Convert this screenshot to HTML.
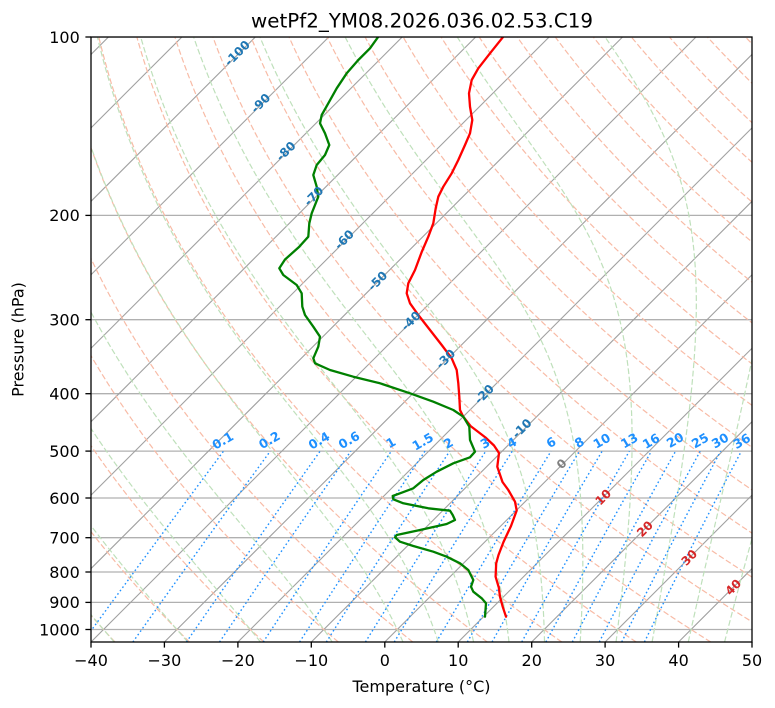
<!DOCTYPE html>
<html><head><meta charset="utf-8">
<style>
html,body{margin:0;padding:0;background:#fff;}
svg{display:block;font-family:"DejaVu Sans","Liberation Sans",sans-serif;}
</style></head>
<body>
<svg id="s" width="775" height="708" viewBox="0 0 775 708" xmlns="http://www.w3.org/2000/svg">
<defs><clipPath id="c"><rect x="91" y="37" width="661" height="605"/></clipPath></defs>
<rect width="775" height="708" fill="#fff"/>
<g clip-path="url(#c)">
  <g id="hgrid" stroke="#b0b0b0" stroke-width="1.3">
    <line x1="91" x2="752" y1="37" y2="37"/>
    <line x1="91" x2="752" y1="215.4" y2="215.4"/>
    <line x1="91" x2="752" y1="319.7" y2="319.7"/>
    <line x1="91" x2="752" y1="393.7" y2="393.7"/>
    <line x1="91" x2="752" y1="451.1" y2="451.1"/>
    <line x1="91" x2="752" y1="498.0" y2="498.0"/>
    <line x1="91" x2="752" y1="537.7" y2="537.7"/>
    <line x1="91" x2="752" y1="572.0" y2="572.0"/>
    <line x1="91" x2="752" y1="602.4" y2="602.4"/>
    <line x1="91" x2="752" y1="629.5" y2="629.5"/>
  </g>
  <g id="iso" stroke="#a0a0a0" stroke-width="1.1" fill="none"></g>
  <g id="dry" stroke="#f8bba6" stroke-width="1.2" stroke-dasharray="5.8,2.6" fill="none"></g>
  <g id="moist" stroke="#bfe0bb" stroke-width="1.2" stroke-dasharray="5.8,2.6" fill="none"></g>
  <g id="mix" stroke="#1e90ff" stroke-width="1.4" stroke-dasharray="1.6,2.6" fill="none"></g>

  <polyline fill="none" stroke="#ff0000" stroke-width="2.3" stroke-linejoin="round" stroke-linecap="round" points="
503.3,36.7 490,53.3 478.3,68.3 471.7,80 469,93.3 470,106.7 472.3,120 470,133.3 465,145 458.3,160 451.7,173.3 443.3,186.7 438.3,196.7 435.7,208.3 433.3,223.3 428.3,236.7 421.7,252 415,270 408.3,283.3 406.7,293.3 410,303.3 418.3,315 430,330 441.7,345 451.7,358.3 456.7,370 458.3,383.3 459.3,396.7 460,410 463.3,416.7 470.5,426 485.5,437.5 494,445.5 499,453 497.3,466.7 502.5,482 508.3,490 515,501.7 516.7,510.5 511,526 503.5,542 498.5,555 496.2,563.3 495.6,576.7 498.8,587.5 500,596.7 502.7,606.7 506,616.7"/>

  <polyline fill="none" stroke="#008000" stroke-width="2.3" stroke-linejoin="round" stroke-linecap="round" points="
378.3,36.7 370,48.3 358.3,60 346.7,73.3 336.7,88.3 328.3,103.3 321.7,115 320,123.3 325,133.3 329.3,145 325,155 316.7,165 313.3,175 316.7,186.7 318.3,196.7 311.7,213.3 309.3,223.3 308.3,236.7 299,247 285,259.5 279.3,268.3 283.3,275 296.7,285 301.7,293.3 302.3,306.7 305,315 313.3,326.7 320,336.7 318.3,346.7 313.3,358.3 315,363.3 330,370 353.3,376.7 380,383.3 410,393.3 433.3,401.7 453.3,410 463.3,416.7 469.3,426.7 470,440 475,451.7 470,457.3 453.3,463.3 436.7,471.7 423.3,480 413.3,488.3 401.7,492.7 392.7,496 393.3,499.3 403.3,503.3 428.3,508.3 450,510.7 452.7,515 455,520 446.7,524 420,530 396.7,535 395,537.3 400,541.7 413.3,546 433.3,551.7 446.7,556.7 460,563.3 468.3,570 473.3,580 471,586.7 473.3,591.7 481.7,598.3 486,603.3 485,616.7"/>

  <g font-weight="bold" font-size="12" text-anchor="middle" dominant-baseline="central">
    <text fill="#1f77b4" transform="translate(237.3,53.3) rotate(-45)">-100</text>
    <text fill="#1f77b4" transform="translate(260.7,103.3) rotate(-45)">-90</text>
    <text fill="#1f77b4" transform="translate(286,151.3) rotate(-45)">-80</text>
    <text fill="#1f77b4" transform="translate(313.8,196.2) rotate(-45)">-70</text>
    <text fill="#1f77b4" transform="translate(344.3,239.7) rotate(-45)">-60</text>
    <text fill="#1f77b4" transform="translate(377.7,281) rotate(-45)">-50</text>
    <text fill="#1f77b4" transform="translate(411,321) rotate(-45)">-40</text>
    <text fill="#1f77b4" transform="translate(445.7,359) rotate(-45)">-30</text>
    <text fill="#1f77b4" transform="translate(484.3,394.3) rotate(-45)">-20</text>
    <text fill="#1f77b4" transform="translate(522,428.5) rotate(-45)">-10</text>
    <text fill="#808080" transform="translate(561.7,464) rotate(-45)">0</text>
    <text fill="#d62728" transform="translate(603.3,497.3) rotate(-45)">10</text>
    <text fill="#d62728" transform="translate(645,529) rotate(-45)">20</text>
    <text fill="#d62728" transform="translate(689.3,557.7) rotate(-45)">30</text>
    <text fill="#d62728" transform="translate(733.3,587.3) rotate(-45)">40</text>
  </g>
  <g font-weight="bold" font-size="12.5" fill="#1e90ff" text-anchor="middle" dominant-baseline="central">
    <text transform="translate(222.7,440.5) rotate(-30)">0.1</text>
    <text transform="translate(269.3,440) rotate(-30)">0.2</text>
    <text transform="translate(319,440.5) rotate(-30)">0.4</text>
    <text transform="translate(349,440) rotate(-30)">0.6</text>
    <text transform="translate(390.7,442.5) rotate(-30)">1</text>
    <text transform="translate(422.7,441.5) rotate(-30)">1.5</text>
    <text transform="translate(448.3,443) rotate(-30)">2</text>
    <text transform="translate(485,443) rotate(-30)">3</text>
    <text transform="translate(511.7,442.5) rotate(-30)">4</text>
    <text transform="translate(551,442.3) rotate(-30)">6</text>
    <text transform="translate(579.3,442.3) rotate(-30)">8</text>
    <text transform="translate(601.7,440.7) rotate(-30)">10</text>
    <text transform="translate(629.3,440.5) rotate(-30)">13</text>
    <text transform="translate(651,441) rotate(-30)">16</text>
    <text transform="translate(675,440) rotate(-30)">20</text>
    <text transform="translate(700,440.5) rotate(-30)">25</text>
    <text transform="translate(720,440.5) rotate(-30)">30</text>
    <text transform="translate(741.7,441) rotate(-30)">36</text>
  </g>
</g>

<rect x="91" y="37" width="661" height="605" fill="none" stroke="#000" stroke-width="1.3"/>

<g stroke="#000" stroke-width="1.3">
  <line x1="85.4" x2="91" y1="37" y2="37"/>
  <line x1="85.4" x2="91" y1="215.4" y2="215.4"/>
  <line x1="85.4" x2="91" y1="319.7" y2="319.7"/>
  <line x1="85.4" x2="91" y1="393.7" y2="393.7"/>
  <line x1="85.4" x2="91" y1="451.1" y2="451.1"/>
  <line x1="85.4" x2="91" y1="498.0" y2="498.0"/>
  <line x1="85.4" x2="91" y1="537.7" y2="537.7"/>
  <line x1="85.4" x2="91" y1="572.0" y2="572.0"/>
  <line x1="85.4" x2="91" y1="602.4" y2="602.4"/>
  <line x1="85.4" x2="91" y1="629.5" y2="629.5"/>
  <line x1="91" x2="91" y1="642" y2="647.6"/>
  <line x1="164.4" x2="164.4" y1="642" y2="647.6"/>
  <line x1="237.9" x2="237.9" y1="642" y2="647.6"/>
  <line x1="311.3" x2="311.3" y1="642" y2="647.6"/>
  <line x1="384.8" x2="384.8" y1="642" y2="647.6"/>
  <line x1="458.2" x2="458.2" y1="642" y2="647.6"/>
  <line x1="531.7" x2="531.7" y1="642" y2="647.6"/>
  <line x1="605.1" x2="605.1" y1="642" y2="647.6"/>
  <line x1="678.6" x2="678.6" y1="642" y2="647.6"/>
  <line x1="752" x2="752" y1="642" y2="647.6"/>
</g>

<g font-size="16" fill="#000" text-anchor="end">
  <text x="79.8" y="42.8">100</text>
  <text x="79.8" y="221.2">200</text>
  <text x="79.8" y="325.5">300</text>
  <text x="79.8" y="399.5">400</text>
  <text x="79.8" y="456.9">500</text>
  <text x="79.8" y="503.8">600</text>
  <text x="79.8" y="543.5">700</text>
  <text x="79.8" y="577.8">800</text>
  <text x="79.8" y="608.2">900</text>
  <text x="79.8" y="635.3">1000</text>
</g>
<g font-size="16" fill="#000" text-anchor="middle">
  <text x="91" y="666">−40</text>
  <text x="164.4" y="666">−30</text>
  <text x="237.9" y="666">−20</text>
  <text x="311.3" y="666">−10</text>
  <text x="384.8" y="666">0</text>
  <text x="458.2" y="666">10</text>
  <text x="531.7" y="666">20</text>
  <text x="605.1" y="666">30</text>
  <text x="678.6" y="666">40</text>
  <text x="752" y="666">50</text>
</g>
<text x="421.5" y="692" font-size="16" text-anchor="middle">Temperature (°C)</text>
<text transform="translate(23.5,339.5) rotate(-90)" font-size="16" text-anchor="middle">Pressure (hPa)</text>
<text x="422" y="27.3" font-size="19.4" text-anchor="middle" textLength="342" lengthAdjust="spacingAndGlyphs">wetPf2_YM08.2026.036.02.53.C19</text>
</svg>
<script>
(function(){
  var NS="http://www.w3.org/2000/svg";
  function Y(p){return 37+592.5*Math.log10(p/100);}
  function X(T,p){return 91+(T+40)*7.3444+(642-Y(p));}
  function pth(pts){return 'M'+pts.map(function(q){return q[0].toFixed(2)+','+q[1].toFixed(2);}).join('L');}
  function add(g,d){var e=document.createElementNS(NS,'path');e.setAttribute('d',d);g.appendChild(e);}
  var iso=document.getElementById('iso'),dry=document.getElementById('dry'),
      moist=document.getElementById('moist'),mix=document.getElementById('mix');
  for(var T=-180;T<=50;T+=10){var xb=91+(T+40)*7.3444;add(iso,'M'+xb.toFixed(2)+',642L'+(xb+605).toFixed(2)+',37');}
  var ps=[];for(var i=0;i<=120;i++){ps.push(1050*Math.pow(100/1050,i/120));}
  var kap=287.04749/1004.6662;
  for(var t=-40;t<=250;t+=10){
    var th=t+273.15;
    add(dry,pth(ps.map(function(p){return [X(th*Math.pow(p/1000,kap)-273.15,p),Y(p)];})));
  }
  var Rd=287.04749,Cp=1004.6662,Lv=2.50084e6,eps=0.6219569;
  function f(p,T){var tc=T-273.15;var es=6.112*Math.exp(17.67*tc/(tc+243.5));var rs=eps*es/(p-es);
    return (Rd*T+Lv*rs)/(Cp+Lv*Lv*rs*eps/(Rd*T*T))/p;}
  function rk(p,T,h){var k1=f(p,T),k2=f(p+h/2,T+h*k1/2),k3=f(p+h/2,T+h*k2/2),k4=f(p+h,T+h*k3);
    return T+h*(k1+2*k2+2*k3+k4)/6;}
  var m0=[-40,-30,-20,-10,0,5,10,15,20,25,30,35,40,45,50];
  m0.forEach(function(t0){
    var up=[],dn=[],p=1000,T=t0+273.15,h;
    up.push([p,T]);
    while(p>100.0001){h=-Math.min(4,p-100);T=rk(p,T,h);p+=h;up.push([p,T]);}
    p=1000;T=t0+273.15;
    while(p<1049.9999){h=Math.min(4,1050-p);T=rk(p,T,h);p+=h;dn.push([p,T]);}
    var all=dn.reverse().concat(up);
    add(moist,pth(all.map(function(q){return [X(q[1]-273.15,q[0]),Y(q[0])];})));
  });
  var ws=[0.1,0.2,0.4,0.6,1,1.5,2,3,4,6,8,10,13,16,20,25,30,36];
  ws.forEach(function(w){
    var r=w/1000,pts=[];
    for(var i=0;i<=30;i++){var p=1050*Math.pow(500/1050,i/30);
      var e=p*r/(eps+r);var l=Math.log(e/6.112);var td=243.5*l/(17.67-l);
      pts.push([X(td,p),Y(p)]);}
    add(mix,pth(pts));
  });
})();
</script>
</body></html>
